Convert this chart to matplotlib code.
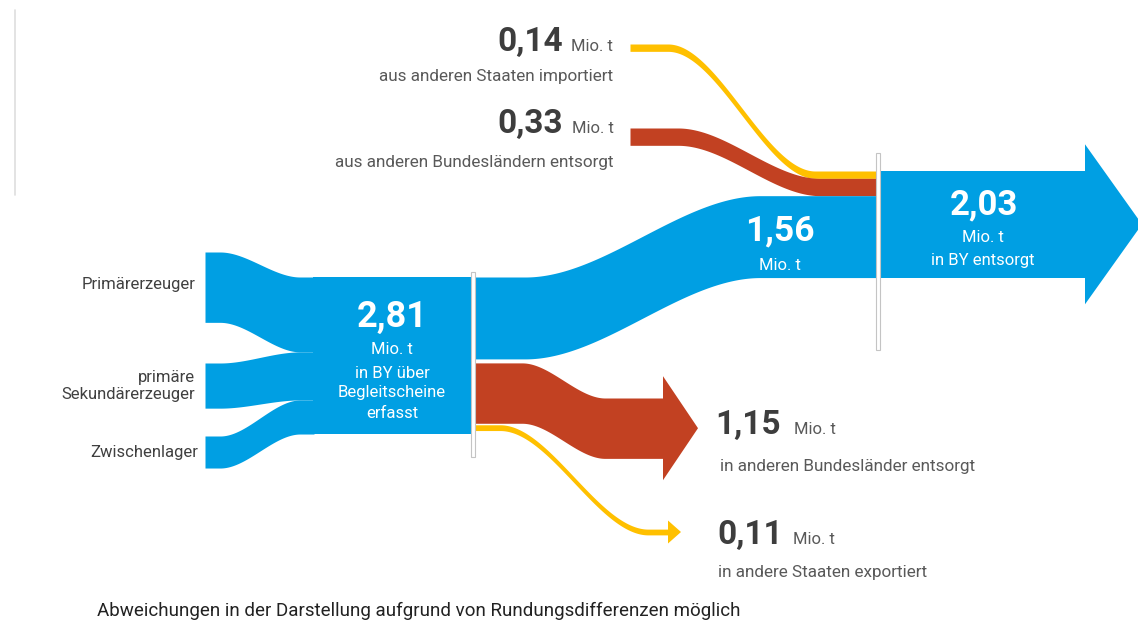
import numpy as np
import matplotlib
matplotlib.use("Agg")
import matplotlib.pyplot as plt
from matplotlib.patches import Rectangle, Polygon

plt.rcParams['font.family'] = ['Roboto', 'DejaVu Sans']
NUMFONT = ['Roboto', 'DejaVu Sans']

# ---------------- data (Mio. t) ----------------
source_labels = ['Primärerzeuger', 'primäre\nSekundärerzeuger', 'Zwischenlager']
source_values = [1.34, 0.86, 0.61]          # estimated from band widths
collected_total = 2.81                      # in BY über Begleitscheine erfasst
out_by = 1.56                               # davon in BY entsorgt
out_laender = 1.15                          # in anderen Bundesländer entsorgt
out_export = 0.11                           # in andere Staaten exportiert
in_import = 0.14                            # aus anderen Staaten importiert
in_laender = 0.33                           # aus anderen Bundesländern entsorgt
disposed_by_total = 2.03                    # in BY entsorgt

def fmt(v):
    return f"{v:.2f}".replace('.', ',')

# ---------------- style ----------------
BLUE = '#009FE3'
RED = '#C24122'
YELLOW = '#FFC000'
DARK = '#3d3d3d'
GREY = '#595959'
S = 52.5            # px per Mio. t
NODE_PAD = 9.5

fig = plt.figure(figsize=(11.38, 6.22), dpi=100)
ax = fig.add_axes([0, 0, 1, 1])
ax.set_xlim(0, 1138)
ax.set_ylim(622, 0)
ax.axis('off')


def band(x0, x1, top0, top1, th0, th1, cx0, cx1, color, z=2):
    x = np.linspace(x0, x1, 400)
    t = np.clip((x - cx0) / (cx1 - cx0), 0, 1)
    s = 3 * t**2 - 2 * t**3
    top = top0 + (top1 - top0) * s
    th = th0 + (th1 - th0) * s
    ax.fill_between(x, top, top + th, color=color, lw=0, zorder=z)


def separator(x, y0, y1):
    ax.add_patch(Rectangle((x - 1.8, y0), 3.6, y1 - y0, facecolor='white',
                           edgecolor='#c4c4c4', lw=0.8, zorder=6))

# faint frame line top-left
ax.plot([15, 15], [10, 195], color='#dedede', lw=1.2, solid_capstyle='round')

# ---------------- central node ----------------
NX0, NX1, NY0 = 313, 471, 277
node_h = collected_total * S + NODE_PAD
ax.add_patch(Rectangle((NX0, NY0), NX1 - NX0, node_h, color=BLUE, lw=0, zorder=3))

# sources
src_left_tops = [252, 363, 436]
tot_src = sum(source_values)
acc = NY0
for lab, v, lt in zip(source_labels, source_values, src_left_tops):
    th_left = v * S
    th_right = v / tot_src * node_h
    band(205, NX0 + 1, lt, acc, th_left, th_right, 220, 300, BLUE)
    acc += th_right

LBL = 12
ax.text(196, 285, source_labels[0], ha='right', va='center', fontsize=LBL, color='#404040')
ax.text(195, 386, source_labels[1], ha='right', va='center', fontsize=LBL, color='#404040',
        linespacing=1.2, multialignment='right')
ax.text(198, 452, source_labels[2], ha='right', va='center', fontsize=LBL, color='#404040')

# ---------------- right node (BY entsorgt) ----------------
RX0, RX1, RY0 = 881, 1086, 171
r_h = disposed_by_total * S
ax.add_patch(Rectangle((RX0, RY0), RX1 - RX0, r_h, color=BLUE, lw=0, zorder=3))
rc = RY0 + r_h / 2
ax.add_patch(Polygon([(RX1 - 1, rc - 80), (1142, rc), (RX1 - 1, rc + 80)],
                     closed=True, color=BLUE, lw=0, zorder=3))

# inflows to right node
band(630, 878, 44, RY0, in_import * S, in_import * S, 668, 815, YELLOW)
band(630, 878, 128, RY0 + in_import * S, in_laender * S, in_laender * S, 678, 820, RED)
band(475, 878, NY0, RY0 + (in_import + in_laender) * S, out_by * S, out_by * S, 525, 760, BLUE)

# ---------------- outflows from central node ----------------
red_top0 = NY0 + out_by * S + 4
red_top1 = 398
band(475, 665, red_top0, red_top1, out_laender * S, out_laender * S, 522, 605, RED)
red_c = red_top1 + out_laender * S / 2
ax.add_patch(Polygon([(663, red_c - 52), (698, red_c), (663, red_c + 52)],
                     closed=True, color=RED, lw=0, zorder=3))

yel_top0 = red_top0 + out_laender * S + 1.5
yel_c1 = 532
band(475, 670, yel_top0, yel_c1 - out_export * S / 2, out_export * S, out_export * S, 500, 648, YELLOW)
ax.add_patch(Polygon([(668, yel_c1 - 11.5), (681, yel_c1), (668, yel_c1 + 11.5)],
                     closed=True, color=YELLOW, lw=0, zorder=3))

separator(473, 272, 457)
separator(878, 153, 350)

# ---------------- texts ----------------
NUM = 24
DESC = 12.3
# top inflows
ax.text(563, 51, fmt(in_import), ha='right', va='baseline', fontsize=NUM, fontweight='bold',
        color=DARK, family=NUMFONT)
ax.text(613, 51, 'Mio. t', ha='right', va='baseline', fontsize=12, color=GREY)
ax.text(613, 76, 'aus anderen Staaten importiert', ha='right', va='center', fontsize=DESC, color=GREY)

ax.text(563, 133, fmt(in_laender), ha='right', va='baseline', fontsize=NUM, fontweight='bold',
        color=DARK, family=NUMFONT)
ax.text(614, 133, 'Mio. t', ha='right', va='baseline', fontsize=12, color=GREY)
ax.text(614, 163, 'aus anderen Bundesländern entsorgt', ha='right', va='center', fontsize=DESC, color=GREY)

# central node
cx = (NX0 + NX1) / 2
ax.text(cx, 327, fmt(collected_total), ha='center', va='baseline', fontsize=26, fontweight='bold',
        color='white', zorder=7, family=NUMFONT)
for txt, y in [('Mio. t', 349), ('in BY über', 373), ('Begleitscheine', 393), ('erfasst', 413)]:
    ax.text(cx, y, txt, ha='center', va='center', fontsize=12, color='white', zorder=7)

# 1,56
ax.text(780, 240, fmt(out_by), ha='center', va='baseline', fontsize=25.5, fontweight='bold',
        color='white', zorder=7, family=NUMFONT)
ax.text(780, 266, 'Mio. t', ha='center', va='center', fontsize=12, color='white', zorder=7)

# 2,03
ax.text(984, 214, fmt(disposed_by_total), ha='center', va='baseline', fontsize=25, fontweight='bold',
        color='white', zorder=7, family=NUMFONT)
ax.text(983, 238, 'Mio. t', ha='center', va='center', fontsize=12, color='white', zorder=7)
ax.text(983, 261, 'in BY entsorgt', ha='center', va='center', fontsize=12, color='white', zorder=7)

# outflow labels
ax.text(715, 434, fmt(out_laender), ha='left', va='baseline', fontsize=NUM, fontweight='bold',
        color=DARK, family=NUMFONT)
ax.text(794, 434, 'Mio. t', ha='left', va='baseline', fontsize=12, color=GREY)
ax.text(720, 467, 'in anderen Bundesländer entsorgt', ha='left', va='center', fontsize=DESC, color=GREY)

ax.text(717, 544, fmt(out_export), ha='left', va='baseline', fontsize=NUM, fontweight='bold',
        color=DARK, family=NUMFONT)
ax.text(793, 544, 'Mio. t', ha='left', va='baseline', fontsize=12, color=GREY)
ax.text(718, 572, 'in andere Staaten exportiert', ha='left', va='center', fontsize=DESC, color=GREY)

# footnote
ax.text(97, 611, 'Abweichungen in der Darstellung aufgrund von Rundungsdifferenzen möglich',
        ha='left', va='center', fontsize=13.5, color='#222222')

fig.savefig('out.png', dpi=100)
